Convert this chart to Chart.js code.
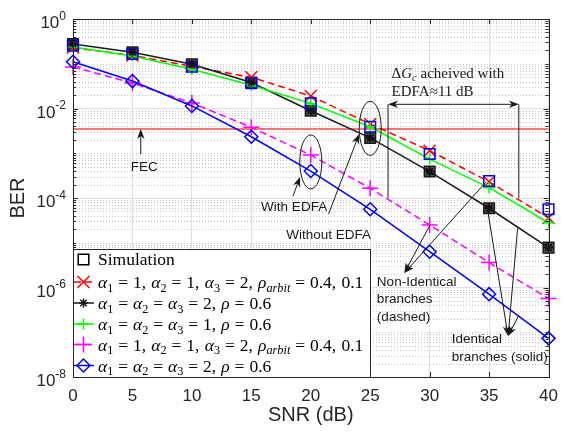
<!DOCTYPE html>
<html>
<head>
<meta charset="UTF-8">
<title>BER vs SNR</title>
<script src="https://cdn.jsdelivr.net/npm/chart.js"></script>
<style>
  body { margin: 0; background: #fff; }
  canvas { display: block; }
</style>
</head>
<body>
<canvas id="ber-plot" width="567" height="432"></canvas>
<script>
// values
const snr = [0, 5, 10, 15, 20, 25, 30, 35, 40];
const berNonIdent = [0.23, 0.153, 0.087, 0.05, 0.019, 0.0045, 1.14e-3, 2.3e-4, 3.6e-5];
const berIdent2 = [0.276, 0.18, 0.097, 0.038, 0.0089, 0.0022, 3.9e-4, 5.9e-5, 7.8e-6];
const berIdent1 = [0.237, 0.149, 0.075, 0.033, 0.013, 0.0039, 7.4e-4, 1.7e-4, 2.8e-5];
const berNonIdentEdfa = [0.085, 0.037, 0.0133, 0.0038, 9.1e-4, 1.65e-4, 2.5e-5, 3.6e-6, 5.7e-7];
const berIdent2Edfa = [0.111, 0.041, 0.0114, 0.00234, 4.0e-4, 5.6e-5, 6.3e-6, 7.1e-7, 7.3e-8];
const simBlue = [0.253, 0.165, 0.086, 0.0366, 0.013, 0.0039, 9.6e-4, 2.4e-4, 5.6e-5];
const simBlack = [0.276, 0.18, 0.097, 0.038, 0.0089, 0.0022, 3.9e-4, 5.9e-5, 7.8e-6];
const fecLimit = 0.0035;
const xTicks = [0, 5, 10, 15, 20, 25, 30, 35, 40];
const yExponents = [0, -2, -4, -6, -8];

const legendLabels = [
  'Simulation',
  'α_1 = 1, α_2 = 1, α_3 = 2, ρ_{arbit} = 0.4, 0.1',
  'α_1 = α_2 = α_3 = 2, ρ = 0.6',
  'α_1 = α_2 = α_3 = 1, ρ = 0.6',
  'α_1 = 1, α_2 = 1, α_3 = 2, ρ_{arbit} = 0.4, 0.1',
  'α_1 = α_2 = α_3 = 2, ρ = 0.6'
];

const INK = '#262626';
const SANS = '"Liberation Sans", Arial, sans-serif';
const SERIF = '"Liberation Serif", "Times New Roman", serif';

const pts = (ys) => snr.map((x, i) => ({ x: x, y: ys[i] }));

// styles for curves (legend uses the same ones)
const curves = [
  { data: berNonIdent, color: '#ff0000', dash: [7, 4], style: 'crossRot', r: 8.5 },
  { data: berIdent2, color: '#1a1a1a', dash: [], style: 'star', r: 4.5 },
  { data: berIdent1, color: '#00ff00', dash: [], style: 'cross', r: 5.5 },
  { data: berNonIdentEdfa, color: '#ff00ff', dash: [7, 4], style: 'cross', r: 8 },
  { data: berIdent2Edfa, color: '#0000ff', dash: [], style: 'rectRot', r: 6.5 }
];

const datasets = [];
datasets.push({
  data: [{ x: 0, y: fecLimit }, { x: 40, y: fecLimit }],
  borderColor: '#ff7676', borderWidth: 2, pointRadius: 0, order: 10
});
curves.forEach((c, i) => {
  datasets.push({
    data: pts(c.data),
    borderColor: c.color, borderWidth: 1.5, borderDash: c.dash,
    pointStyle: c.style, pointRadius: c.r, pointBorderWidth: 1.5,
    pointBorderColor: c.color, pointBackgroundColor: 'rgba(0,0,0,0)',
    order: 8 - i, clip: false
  });
});
datasets.push({
  data: pts(simBlack), showLine: false, pointStyle: 'rect', pointRadius: 7.5,
  pointBorderColor: '#1a1a1a', pointBackgroundColor: '#555', pointBorderWidth: 1.5,
  order: 9, clip: false
});
datasets.push({
  data: pts(simBlue), showLine: false, pointStyle: 'rect', pointRadius: 7.5,
  pointBorderColor: '#0000ff', pointBackgroundColor: 'rgba(0,0,0,0)', pointBorderWidth: 1.5,
  order: 1, clip: false
});
// black stars drawn above the black squares
datasets.push({
  data: pts(berIdent2), showLine: false, pointStyle: 'star', pointRadius: 4.5,
  pointBorderColor: '#111', pointBorderWidth: 1.5, order: 0, clip: false
});

// tiny TeX-ish text: α_1, ρ_{arbit}, spaced '='
function texTokens(str) {
  const out = [];
  let i = 0;
  while (i < str.length) {
    const c = str[i];
    if (c === '_') {
      let sub;
      if (str[i + 1] === '{') { const j = str.indexOf('}', i); sub = str.slice(i + 2, j); i = j + 1; }
      else { sub = str[i + 1]; i += 2; }
      out.push({ t: sub, sub: true, it: /[a-z]/i.test(sub) });
      continue;
    }
    if (c === ' ') { i++; continue; }
    if (c === '=') { out.push({ t: '=', pre: 0.28, post: 0.28 }); i++; continue; }
    if (c === ',') { out.push({ t: ',', post: 0.3 }); i++; continue; }
    out.push({ t: c, it: /[a-zA-Zα-ω]/.test(c) });
    i++;
  }
  return out;
}

function drawTex(ctx, str, x, baseline, size) {
  texTokens(str).forEach(tk => {
    const s = tk.sub ? size * 0.7 : size;
    ctx.font = (tk.it ? 'italic ' : '') + s + 'px ' + SERIF;
    x += (tk.pre || 0) * size;
    ctx.fillText(tk.t, x, baseline + (tk.sub ? size * 0.22 : 0));
    x += ctx.measureText(tk.t).width + (tk.post || 0) * size;
  });
  return x;
}

function arrow(ctx, x1, y1, x2, y2) {
  const a = Math.atan2(y2 - y1, x2 - x1);
  const L = 10, W = 3.8;
  ctx.beginPath(); ctx.moveTo(x1, y1); ctx.lineTo(x2 - Math.cos(a) * 5, y2 - Math.sin(a) * 5); ctx.stroke();
  ctx.save();
  ctx.translate(x2, y2); ctx.rotate(a);
  ctx.beginPath();
  ctx.moveTo(0, 0); ctx.lineTo(-L, -W); ctx.lineTo(-L * 0.7, 0); ctx.lineTo(-L, W);
  ctx.closePath(); ctx.fill();
  ctx.restore();
}

const framePlugin = {
  id: 'frame',
  beforeDatasetsDraw(chart) {
    const { ctx, chartArea: a, scales: { y } } = chart;
    ctx.save();
    ctx.strokeStyle = '#c8c8c8';
    ctx.lineWidth = 1;
    ctx.setLineDash([1, 2]);
    for (let e = -8; e < 0; e++) {
      for (let m = 1; m < 10; m++) {
        if (m === 1 && e % 2 === 0) continue;
        const py = Math.round(y.getPixelForValue(m * Math.pow(10, e))) + 0.5;
        ctx.beginPath(); ctx.moveTo(a.left, py); ctx.lineTo(a.right, py); ctx.stroke();
      }
    }
    ctx.restore();
  },
  afterDatasetsDraw(chart) {
    const { ctx, chartArea: a, scales: { x, y } } = chart;
    ctx.save();
    // box and inward ticks
    ctx.strokeStyle = INK; ctx.lineWidth = 1;
    ctx.strokeRect(Math.round(a.left) + 0.5, Math.round(a.top) + 0.5, Math.round(a.right - a.left), Math.round(a.bottom - a.top));
    ctx.beginPath();
    xTicks.forEach(v => {
      const px = Math.round(x.getPixelForValue(v)) + 0.5;
      ctx.moveTo(px, a.bottom); ctx.lineTo(px, a.bottom - 5);
      ctx.moveTo(px, a.top); ctx.lineTo(px, a.top + 5);
    });
    for (let e = -8; e <= 0; e++) {
      for (let m = 1; m < 10; m++) {
        if (e === 0 && m > 1) break;
        const py = Math.round(y.getPixelForValue(m * Math.pow(10, e))) + 0.5;
        const len = (m === 1 && e % 2 === 0) ? 5 : 3;
        ctx.moveTo(a.left, py); ctx.lineTo(a.left + len, py);
        ctx.moveTo(a.right, py); ctx.lineTo(a.right - len, py);
      }
    }
    ctx.stroke();

    // y tick labels 10^k
    ctx.fillStyle = INK;
    ctx.textBaseline = 'middle';
    yExponents.forEach(e => {
      const py = y.getPixelForValue(Math.pow(10, e));
      ctx.font = '12px ' + SANS;
      const exp = String(e);
      const we = ctx.measureText(exp).width;
      ctx.fillText(exp, a.left - 7 - we, py - 2.5);
      ctx.font = '17px ' + SANS;
      const wb = ctx.measureText('10').width;
      ctx.fillText('10', a.left - 7 - we - wb, py + 4.5);
    });

    // annotations, placed in data coordinates
    const P = (sx, b) => [x.getPixelForValue(sx), y.getPixelForValue(b)];
    ctx.fillStyle = '#1a1a1a'; ctx.strokeStyle = '#1a1a1a'; ctx.lineWidth = 1;
    ctx.font = '13.5px ' + SANS;
    ctx.textAlign = 'center';
    let p = P(6.0, 4.9e-4); ctx.fillText('FEC', p[0], p[1]);
    arrow(ctx, ...P(5.7, 9.5e-4), ...P(5.7, fecLimit));
    p = P(18.6, 6.3e-5); ctx.fillText('With EDFA', p[0], p[1]);
    arrow(ctx, ...P(18.5, 1.1e-4), ...P(19.1, 2.95e-4));
    p = P(21.5, 1.5e-5); ctx.fillText('Without EDFA', p[0], p[1]);
    arrow(ctx, ...P(21.5, 4.4e-5), ...P(24.07, 2.7e-3));

    [[20, 6.4e-4], [25, 3.6e-3]].forEach(c => {
      const q = P(c[0], c[1]);
      ctx.beginPath(); ctx.ellipse(q[0], q[1], 11, 27, 0, 0, Math.PI * 2); ctx.stroke();
    });

    ctx.textAlign = 'left';
    p = P(25.56, 1.33e-6); ctx.fillText('Non-Identical', p[0], p[1]);
    p = P(25.56, 5.5e-7); ctx.fillText('branches', p[0], p[1]);
    p = P(25.56, 2.2e-7); ctx.fillText('(dashed)', p[0], p[1]);
    arrow(ctx, ...P(34.74, 2.28e-4), ...P(27.87, 2.1e-6));
    arrow(ctx, ...P(30.03, 2.5e-5), ...P(27.87, 2.1e-6));

    p = P(31.85, 7.1e-8); ctx.fillText('Identical', p[0], p[1]);
    p = P(31.85, 2.8e-8); ctx.fillText('branches (solid)', p[0], p[1]);
    arrow(ctx, ...P(34.85, 5.9e-5), ...P(36.6, 8.2e-8));
    arrow(ctx, ...P(37.4, 2.1e-5), ...P(36.6, 8.2e-8));
    arrow(ctx, ...P(37.5, 2.4e-7), ...P(36.6, 8.2e-8));

    // Delta G_c double arrow
    const l = P(26.5, 0.0124), r = P(37.5, 0.0124), lb = P(26.5, 1e-4), rb = P(37.5, 1e-4);
    ctx.beginPath();
    ctx.moveTo(l[0], l[1]); ctx.lineTo(lb[0], lb[1]);
    ctx.moveTo(r[0], r[1]); ctx.lineTo(rb[0], rb[1]);
    ctx.stroke();
    const mid = (l[0] + r[0]) / 2;
    arrow(ctx, mid, l[1], l[0], l[1]);
    arrow(ctx, mid, r[1], r[0], r[1]);
    ctx.textBaseline = 'alphabetic';
    p = P(26.8, 0.062);
    const xe = drawTex(ctx, 'ΔG_c', p[0], p[1] + 5, 15);
    ctx.font = '15px ' + SERIF;
    ctx.fillText(' acheived with', xe, p[1] + 5);
    p = P(26.8, 0.0246);
    ctx.fillText('EDFA≈11 dB', p[0], p[1] + 5);
    ctx.restore();
  },
  afterDraw(chart) {
    const { ctx, chartArea: a } = chart;
    const H = 128, Wd = 297;
    const left = Math.round(a.left), top = Math.round(a.bottom) - H;
    ctx.save();
    ctx.fillStyle = '#fff';
    ctx.fillRect(left, top, Wd, H);
    ctx.strokeStyle = INK; ctx.lineWidth = 1;
    ctx.strokeRect(left + 0.5, top + 0.5, Wd, H);
    const rowY = [10.5, 33, 54, 75, 95.5, 116.5];
    const help = Chart.helpers;
    legendLabels.forEach((lab, i) => {
      const cy = top + rowY[i];
      const mx = left + 10.5;
      if (i === 0) {
        ctx.strokeStyle = '#000'; ctx.fillStyle = 'rgba(0,0,0,0)'; ctx.lineWidth = 1.5;
        help.drawPoint(ctx, { pointStyle: 'rect', radius: 7.5, borderWidth: 1.5, rotation: 0 }, mx, cy);
        ctx.fillStyle = '#000';
        ctx.font = '17.5px ' + SERIF;
        ctx.textBaseline = 'middle';
        ctx.fillText(lab, left + 25, cy + 1);
        return;
      }
      const c = curves[i - 1];
      ctx.strokeStyle = c.color; ctx.lineWidth = 1.5;
      ctx.setLineDash(c.dash);
      ctx.beginPath(); ctx.moveTo(left + 1, cy); ctx.lineTo(left + 21, cy); ctx.stroke();
      ctx.setLineDash([]);
      ctx.fillStyle = 'rgba(0,0,0,0)';
      help.drawPoint(ctx, { pointStyle: c.style, radius: c.r, borderWidth: 1.5, rotation: 0 }, mx, cy);
      ctx.fillStyle = '#000';
      ctx.textBaseline = 'alphabetic';
      drawTex(ctx, lab, left + 25, cy + 6, 17.5);
    });
    ctx.restore();
  }
};

new Chart(document.getElementById('ber-plot').getContext('2d'), {
  type: 'line',
  data: { datasets: datasets },
  options: {
    responsive: false,
    animation: false,
    layout: { padding: { top: 19, right: 10.5, left: 0, bottom: 0 } },
    plugins: { legend: { display: false }, tooltip: { enabled: false } },
    elements: { line: { tension: 0 } },
    scales: {
      x: {
        type: 'linear', min: 0, max: 40,
        ticks: { stepSize: 5, color: INK, font: { family: SANS, size: 17 }, padding: 9 },
        grid: { color: '#e0e0e0', drawTicks: false },
        border: { display: false },
        title: { display: true, text: 'SNR (dB)', color: INK, font: { family: SANS, size: 20 }, padding: { top: 0, bottom: 5 } },
        afterFit: s => { s.height = 55; }
      },
      y: {
        type: 'logarithmic', min: 1e-8, max: 1,
        afterBuildTicks: s => { s.ticks = yExponents.map(e => ({ value: Math.pow(10, e) })); },
        ticks: { display: false },
        grid: { color: '#e0e0e0', drawTicks: false },
        border: { display: false },
        title: { display: true, text: 'BER', color: INK, font: { family: SANS, size: 20 }, padding: { top: 6, bottom: 0 } },
        afterFit: s => { s.width = 73; }
      }
    }
  },
  plugins: [framePlugin]
});
</script>
</body>
</html>
